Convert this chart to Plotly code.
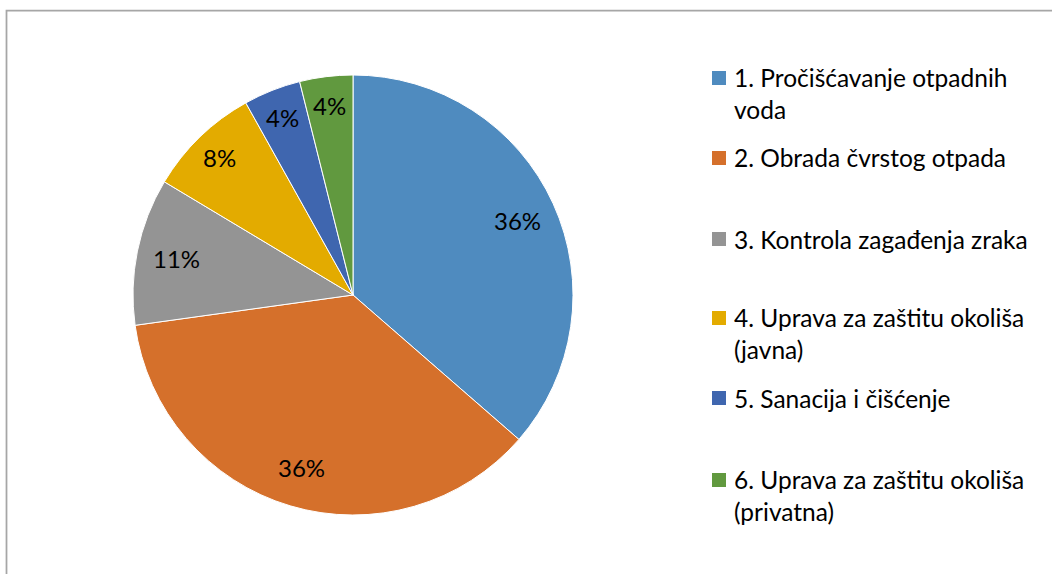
import math
import plotly.graph_objects as go

categories = [
    "1. Pročišćavanje otpadnih<br>voda",
    "2. Obrada čvrstog otpada",
    "3. Kontrola zagađenja zraka",
    "4. Uprava za zaštitu okoliša<br>(javna)",
    "5. Sanacija i čišćenje",
    "6. Uprava za zaštitu okoliša<br>(privatna)",
]
values = [36.4, 36.4, 10.8, 8.3, 4.2, 3.9]
colors = ["#4F8BBF", "#D5702B", "#949494", "#E3AB00", "#3F66AF", "#61993F"]
legend_y = [93, 158, 239, 333, 398, 495]  # legend item centres (px from top)

W, H = 1052, 574
FONT = "Lato, Carlito, Calibri, sans-serif"
CX, CY, R = 353, 295, 220  # pie centre / radius in px

fig = go.Figure()
fig.add_trace(go.Pie(
    labels=categories,
    values=values,
    sort=False,
    direction="clockwise",
    rotation=0,
    marker=dict(colors=colors, line=dict(color="white", width=1)),
    textinfo="none",
    domain=dict(x=[(CX - R) / W, (CX + R) / W], y=[1 - (CY + R) / H, 1 - (CY - R) / H]),
    showlegend=False,
    hoverinfo="label+percent",
))

annotations = []
# percentage labels placed at the mid-angle of each slice
total = sum(values)
cum = 0.0
for v in values:
    mid = (cum + v / 2) / total * 2 * math.pi
    cum += v
    rr = 0.82 * R if v / total > 0.09 else 0.87 * R
    px = CX + rr * math.sin(mid)
    py = CY - rr * math.cos(mid)
    annotations.append(dict(xref="paper", yref="paper", x=px / W, y=1 - py / H,
                            text=f"{round(v / total * 100)}%", showarrow=False,
                            xanchor="center", yanchor="middle",
                            font=dict(family=FONT, size=24, color="#000000")))

shapes = [dict(type="rect", xref="paper", yref="paper",
               x0=6.5 / W, x1=1.2, y0=-0.2, y1=1 - 10.5 / H,
               line=dict(color="#A6A6A6", width=1.75), fillcolor="rgba(0,0,0,0)")]
for lab, col, yc in zip(categories, colors, legend_y):
    nlines = lab.count("<br>") + 1
    ytop = yc - (nlines - 1) * 15
    shapes.append(dict(type="rect", xref="paper", yref="paper",
                       x0=712 / W, x1=726 / W,
                       y0=1 - (ytop + 7) / H, y1=1 - (ytop - 7) / H,
                       fillcolor=col, line=dict(width=0)))
    annotations.append(dict(xref="paper", yref="paper", x=732 / W, y=1 - yc / H,
                            text=lab, showarrow=False, xanchor="left", yanchor="middle",
                            align="left",
                            font=dict(family=FONT, size=24.5, color="#000000")))

fig.update_layout(
    width=W, height=H,
    margin=dict(l=0, r=0, t=0, b=0),
    paper_bgcolor="white",
    plot_bgcolor="white",
    shapes=shapes,
    annotations=annotations,
    showlegend=False,
)

fig.write_html("out.html", config={"displayModeBar": False},
               post_script="document.body.style.margin='0';")
